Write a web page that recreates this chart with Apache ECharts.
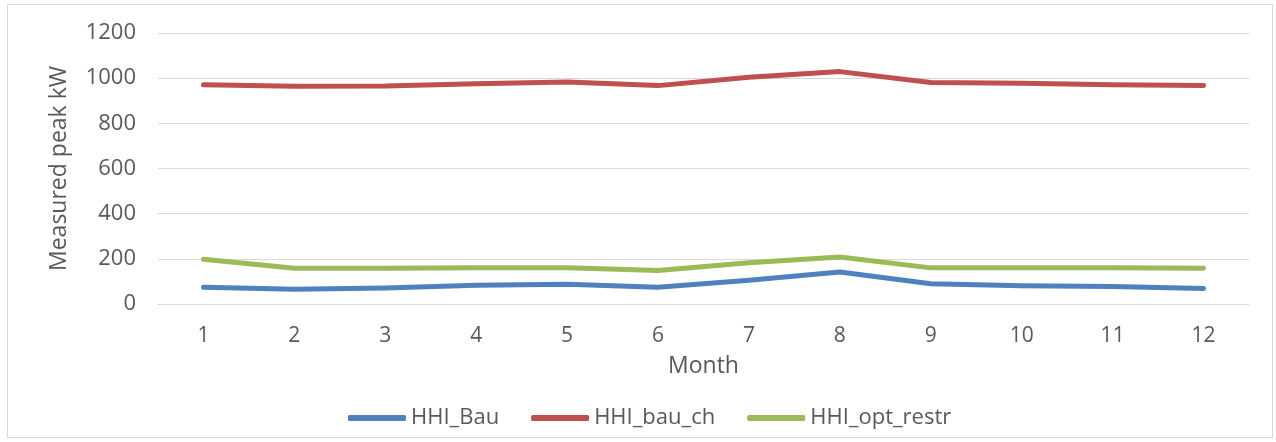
<!DOCTYPE html>
<html>
<head>
<meta charset="utf-8">
<script src="https://cdn.jsdelivr.net/npm/echarts@6/dist/echarts.min.js"></script>
<style>
  html, body { margin: 0; padding: 0; background: #fff; }
  #chart { width: 1276px; height: 442px; }
  .frame {
    position: absolute; left: 7px; top: 4px; width: 1266px; height: 434px;
    border: 1px solid #d9d9d9; box-sizing: border-box; pointer-events: none;
  }
</style>
</head>
<body>
<div id="chart"></div>
<div class="frame"></div>
<script>
// 数据
const months = ['1', '2', '3', '4', '5', '6', '7', '8', '9', '10', '11', '12'];
const hhiBau = [74, 65, 71, 83, 87, 74, 105, 142, 90, 81, 77, 69];
const hhiBauCh = [971, 964, 965, 975, 983, 967, 1004, 1029, 981, 977, 971, 967];
const hhiOptRestr = [198, 158, 158, 160, 161, 148, 183, 208, 160, 160, 160, 158];

const textColor = '#595959';
const gridColor = '#d9d9d9';
const font = 'Open Sans';

const chart = echarts.init(document.getElementById('chart'));

const lineSeries = (name, data, color) => ({
  name: name,
  type: 'line',
  data: data,
  symbol: 'none',
  lineStyle: { color: color, width: 5, cap: 'round', join: 'round' },
  itemStyle: { color: color },
  animation: false
});

chart.setOption({
  backgroundColor: '#fff',
  grid: { left: 158, right: 27, top: 33, bottom: 138 },
  xAxis: {
    type: 'category',
    data: months,
    boundaryGap: true,
    name: 'Month',
    nameLocation: 'middle',
    nameGap: 51,
    nameTextStyle: { color: textColor, fontFamily: font, fontSize: 23 },
    axisTick: { show: false },
    axisLine: { lineStyle: { color: gridColor, width: 1 } },
    axisLabel: { color: textColor, fontFamily: font, fontSize: 21, margin: 22 }
  },
  yAxis: {
    type: 'value',
    min: 0,
    max: 1200,
    interval: 200,
    name: 'Measured peak kW',
    nameLocation: 'middle',
    nameGap: 87,
    nameTextStyle: { color: textColor, fontFamily: font, fontSize: 23 },
    axisLine: { show: false },
    axisTick: { show: false },
    axisLabel: {
      color: textColor, fontFamily: font, fontSize: 22, margin: 22,
      formatter: (v) => String(v)
    },
    splitLine: { lineStyle: { color: gridColor, width: 1 } }
  },
  legend: {
    bottom: 8,
    left: 343,
    icon: 'roundRect',
    itemWidth: 58,
    itemHeight: 6,
    itemGap: 32,
    textStyle: { color: textColor, fontFamily: font, fontSize: 22 },
    data: ['HHI_Bau', 'HHI_bau_ch', 'HHI_opt_restr']
  },
  series: [
    lineSeries('HHI_Bau', hhiBau, '#4F81BD'),
    lineSeries('HHI_bau_ch', hhiBauCh, '#C0504D'),
    lineSeries('HHI_opt_restr', hhiOptRestr, '#9BBB59')
  ]
});
</script>
</body>
</html>
